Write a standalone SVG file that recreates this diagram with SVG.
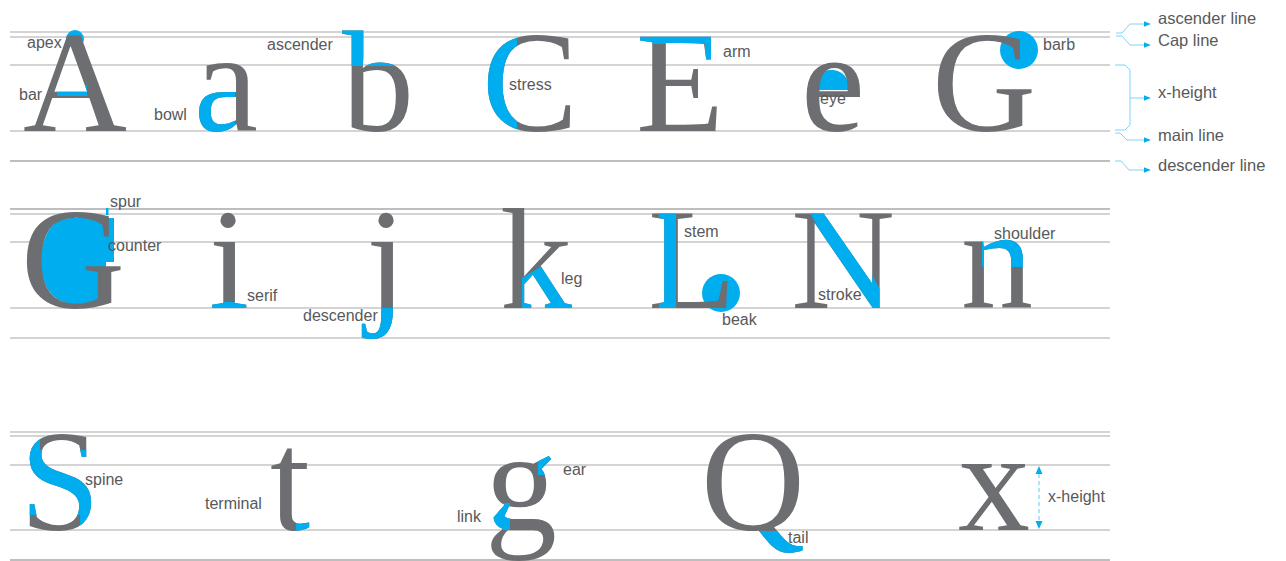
<svg xmlns="http://www.w3.org/2000/svg" width="1286" height="561" viewBox="0 0 1286 561">
<style>
.gl{font-family:"Liberation Serif","Times New Roman",serif;font-size:144px;text-anchor:middle}
.gy{fill:#6d6e71}
.bl{fill:#00aeef}
.lbl{font-family:"Liberation Sans",Arial,sans-serif;font-size:16px;fill:#58595b}
.leg{font-family:"Liberation Sans",Arial,sans-serif;font-size:16.5px;fill:#58595b}
.guide{stroke:#c6c6c6;stroke-width:1.3}
.guide2{stroke:#a8a8a8;stroke-width:1.3}
.conn{stroke:#80d4f5;stroke-width:1;fill:none}
</style>
<defs>
<marker id="ah" viewBox="0 0 10 10" refX="9" refY="5" markerWidth="7" markerHeight="7" orient="auto"><path d="M0,1 L10,5 L0,9 Z" fill="#00aeef"/></marker>
<clipPath id="cBar"><rect x="57" y="85" width="30" height="11"/></clipPath>
<clipPath id="cBowl"><rect x="185" y="92" width="50" height="50"/></clipPath>
<clipPath id="cAsc"><rect x="330" y="20" width="90" height="46"/></clipPath>
<clipPath id="cStress"><rect x="478" y="25" width="39" height="115"/></clipPath>
<clipPath id="cArm"><rect x="630" y="25" width="95" height="19"/><rect x="705" y="25" width="20" height="37"/></clipPath>
<clipPath id="cSerif"><rect x="200" y="302" width="60" height="12"/></clipPath>
<clipPath id="cDesc"><rect x="350" y="308" width="60" height="40"/></clipPath>
<clipPath id="cLeg"><polygon points="522,278 585,240 585,315 522,315"/></clipPath>
<clipPath id="cStem"><rect x="659" y="200" width="17" height="115"/></clipPath>
<clipPath id="cStroke"><polygon points="806,205 835,205 895,318 866,318"/></clipPath>
<clipPath id="cShoulder"><rect x="982" y="232" width="50" height="35"/></clipPath>
<clipPath id="cSpine"><polygon points="10,425 40,425 40,450 110,450 110,540 80,540 80,515 10,515"/></clipPath>
<clipPath id="cTerm"><rect x="296" y="517" width="25" height="20"/></clipPath>
<clipPath id="cEar"><rect x="538" y="455" width="25" height="20"/></clipPath>
<clipPath id="cLink"><rect x="488" y="503" width="22" height="27"/></clipPath>
<clipPath id="cTail"><rect x="700" y="531" width="120" height="30"/></clipPath>
</defs>
<rect width="1286" height="561" fill="#fff"/>
<g id="guides">
<line class="guide" x1="10" y1="32" x2="1110" y2="32"/>
<line class="guide" x1="10" y1="37" x2="1110" y2="37"/>
<line class="guide" x1="10" y1="65" x2="1110" y2="65"/>
<line class="guide" x1="10" y1="131" x2="1110" y2="131"/>
<line class="guide2" x1="10" y1="161" x2="1110" y2="161"/>
<line class="guide2" x1="10" y1="209" x2="1110" y2="209"/>
<line class="guide" x1="10" y1="214" x2="1110" y2="214"/>
<line class="guide" x1="10" y1="242" x2="1110" y2="242"/>
<line class="guide" x1="10" y1="308" x2="1110" y2="308"/>
<line class="guide" x1="10" y1="338" x2="1110" y2="338"/>
<line class="guide" x1="10" y1="432" x2="1110" y2="432"/>
<line class="guide" x1="10" y1="436" x2="1110" y2="436"/>
<line class="guide" x1="10" y1="465" x2="1110" y2="465"/>
<line class="guide" x1="10" y1="530" x2="1110" y2="530"/>
<line class="guide2" x1="10" y1="560" x2="1110" y2="560"/>
</g>
<g id="letter-A">
<circle cx="75" cy="39" r="9" class="bl"/>
<text class="gl gy" x="75" y="131">A</text>
<text class="gl bl" x="75" y="131" clip-path="url(#cBar)">A</text>
<text class="lbl" x="27" y="48">apex</text>
<text class="lbl" x="19" y="100">bar</text>
</g>
<g id="letter-a">
<text class="gl gy" x="226" y="131">a</text>
<text class="gl bl" x="226" y="131" clip-path="url(#cBowl)">a</text>
<text class="lbl" x="154" y="120">bowl</text>
</g>
<g id="letter-b">
<text class="gl gy" x="378" y="131">b</text>
<text class="gl bl" x="378" y="131" clip-path="url(#cAsc)">b</text>
<text class="lbl" x="267" y="50">ascender</text>
</g>
<g id="letter-C">
<text class="gl gy" x="530" y="131">C</text>
<text class="gl bl" x="530" y="131" clip-path="url(#cStress)">C</text>
<text class="lbl" x="509" y="90">stress</text>
</g>
<g id="letter-E">
<text class="gl gy" x="680" y="131">E</text>
<text class="gl bl" x="680" y="131" clip-path="url(#cArm)">E</text>
<text class="lbl" x="723" y="57">arm</text>
</g>
<g id="letter-e">
<path class="bl" d="M813,90 C813,76 820,70 831,70 C843,70 849,78 849,90 Z"/>
<text class="gl gy" x="833" y="131">e</text>
<text class="lbl" x="820" y="104">eye</text>
</g>
<g id="letter-G1">
<circle cx="1019" cy="50" r="19" class="bl"/>
<text class="gl gy" x="984" y="131">G</text>
<text class="lbl" x="1043" y="50">barb</text>
</g>
<g id="letter-G2">
<path class="bl" d="M112,218 L70,218 C50,218 41,240 41,262 C41,288 55,304 75,304 C90,304 100,300 106,296 L106,262 L114,262 L114,218 Z"/>
<rect class="bl" x="106" y="208" width="2.5" height="7"/>
<text class="gl gy" x="73" y="308">G</text>
<text class="lbl" x="110" y="207">spur</text>
<text class="lbl" x="108" y="251">counter</text>
</g>
<g id="letter-i">
<text class="gl gy" x="229" y="308">i</text>
<text class="gl bl" x="229" y="308" clip-path="url(#cSerif)">i</text>
<text class="lbl" x="247" y="301">serif</text>
</g>
<g id="letter-j">
<text class="gl gy" x="386" y="308">j</text>
<text class="gl bl" x="386" y="308" clip-path="url(#cDesc)">j</text>
<text class="lbl" x="303" y="321">descender</text>
</g>
<g id="letter-k">
<text class="gl gy" x="536" y="308">k</text>
<text class="gl bl" x="536" y="308" clip-path="url(#cLeg)">k</text>
<text class="lbl" x="561" y="284">leg</text>
</g>
<g id="letter-L">
<circle cx="721" cy="293" r="19" class="bl"/>
<text class="gl gy" x="692" y="308">L</text>
<text class="gl bl" x="692" y="308" clip-path="url(#cStem)">L</text>
<text class="lbl" x="684" y="237">stem</text>
<text class="lbl" x="722" y="325">beak</text>
</g>
<g id="letter-N">
<text class="gl gy" x="843" y="308">N</text>
<text class="gl bl" x="843" y="308" clip-path="url(#cStroke)">N</text>
<text class="lbl" x="818" y="300">stroke</text>
</g>
<g id="letter-n">
<text class="gl gy" x="997" y="308">n</text>
<text class="gl bl" x="997" y="308" clip-path="url(#cShoulder)">n</text>
<text class="lbl" x="994" y="239">shoulder</text>
</g>
<g id="letter-S">
<text class="gl gy" x="60" y="530">S</text>
<text class="gl bl" x="60" y="530" clip-path="url(#cSpine)">S</text>
<text class="lbl" x="85" y="485">spine</text>
</g>
<g id="letter-t">
<text class="gl gy" x="290" y="530">t</text>
<text class="gl bl" x="290" y="530" clip-path="url(#cTerm)">t</text>
<text class="lbl" x="205" y="509">terminal</text>
</g>
<g id="letter-g">
<text class="gl gy" x="521" y="530">g</text>
<text class="gl bl" x="521" y="530" clip-path="url(#cEar)">g</text>
<text class="gl bl" x="521" y="530" clip-path="url(#cLink)">g</text>
<text class="lbl" x="563" y="475">ear</text>
<text class="lbl" x="457" y="522">link</text>
</g>
<g id="letter-Q">
<text class="gl gy" x="753" y="530">Q</text>
<text class="gl bl" x="753" y="530" clip-path="url(#cTail)">Q</text>
<text class="lbl" x="788" y="543">tail</text>
</g>
<g id="letter-x">
<text class="gl gy" x="994" y="530">x</text>
<text class="lbl" x="1048" y="502">x-height</text>
</g>
<g id="legend">
<text class="leg" x="1158" y="24">ascender line</text>
<text class="leg" x="1158" y="46">Cap line</text>
<text class="leg" x="1158" y="98">x-height</text>
<text class="leg" x="1158" y="141">main line</text>
<text class="leg" x="1158" y="171">descender line</text>
</g>
<g id="connectors">
<polyline class="conn" points="1116,33 1122,33 1130,24 1150,24" marker-end="url(#ah)"/>
<polyline class="conn" points="1116,36 1122,36 1130,45 1150,45" marker-end="url(#ah)"/>
<polyline class="conn" points="1115,65 1125,65 1130,70 1130,125 1125,130 1115,130"/>
<polyline class="conn" points="1130,98 1150,98" marker-end="url(#ah)"/>
<polyline class="conn" points="1115,133 1120,133 1127,140 1150,140" marker-end="url(#ah)"/>
<polyline class="conn" points="1115,161 1121,161 1129,170 1150,170" marker-end="url(#ah)"/>
<line x1="1039" y1="474" x2="1039" y2="521" stroke="#5cc9f2" stroke-width="1" stroke-dasharray="4,3"/>
<path d="M1039,466 L1035.5,474 L1042.5,474 Z" fill="#00aeef"/>
<path d="M1039,529 L1035.5,521 L1042.5,521 Z" fill="#00aeef"/>
</g>
</svg>
